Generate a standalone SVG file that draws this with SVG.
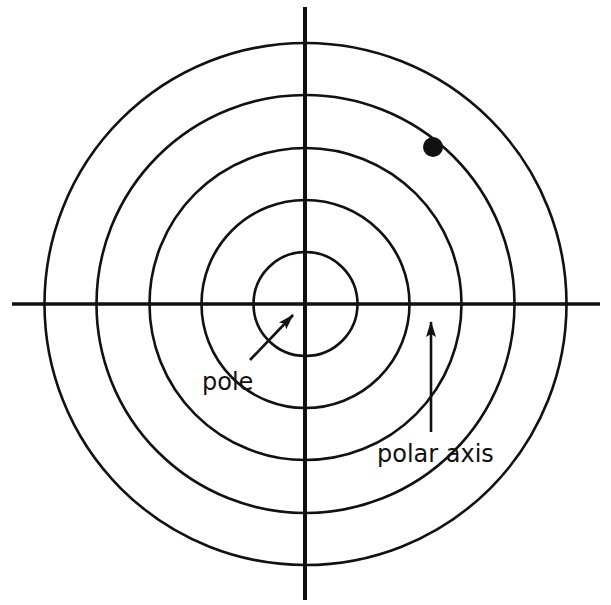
<svg xmlns="http://www.w3.org/2000/svg" width="611" height="605" viewBox="0 0 611 605">
<style>
.ring{fill:none;stroke:#111;stroke-width:2.6}
.axis{stroke:#111;fill:none}
.lbl{font-family:"DejaVu Sans",sans-serif;font-size:24px;fill:#111}
.ptr{stroke:#111;stroke-width:2.6;fill:none}
</style>
<defs>
<marker id="ah" viewBox="0 0 16 10" refX="15" refY="5" markerWidth="16" markerHeight="10" markerUnits="userSpaceOnUse" orient="auto">
<path d="M0,0 L16,5 L0,10 L3,5 Z" fill="#111"/>
</marker>
</defs>
<rect width="611" height="605" fill="#fff"/>
<g id="circles">
<circle id="r1" class="ring" cx="305.5" cy="304" r="52"/>
<circle id="r2" class="ring" cx="305.5" cy="304" r="104"/>
<circle id="r3" class="ring" cx="305.5" cy="304" r="156"/>
<circle id="r4" class="ring" cx="305.5" cy="304" r="209"/>
<circle id="r5" class="ring" cx="305.5" cy="304" r="261"/>
</g>
<g id="axes">
<line class="axis" x1="12" y1="304" x2="600" y2="304" stroke-width="3.5"/>
<line class="axis" x1="305" y1="7" x2="305" y2="600" stroke-width="4"/>
</g>
<g id="point"><circle cx="433" cy="147" r="10" fill="#111"/></g>
<g id="connectors">
<line class="ptr" x1="250" y1="360" x2="293" y2="315" marker-end="url(#ah)"/>
<line class="ptr" x1="431" y1="432" x2="431" y2="322" marker-end="url(#ah)"/>
</g>
<g id="pole-label"><text class="lbl" x="202" y="390">pole</text></g>
<g id="polar-axis-label"><text class="lbl" x="377" y="462">polar axis</text></g>
</svg>
